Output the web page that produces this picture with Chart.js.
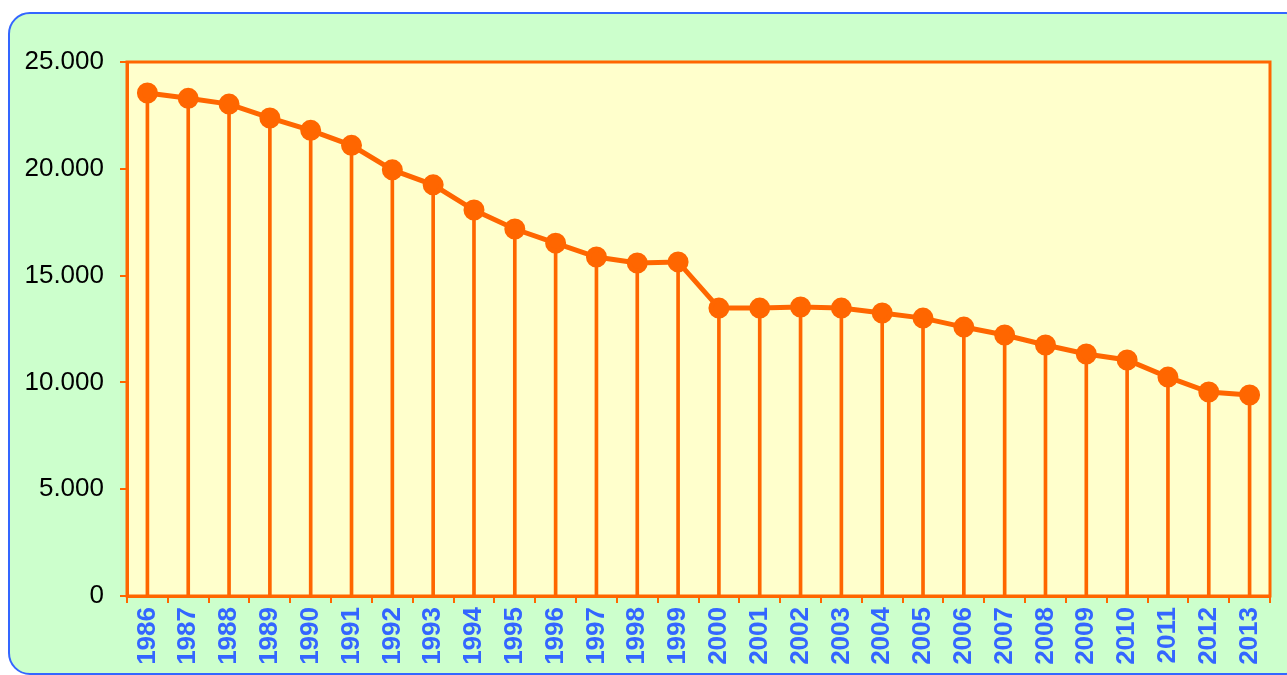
<!DOCTYPE html>
<html>
<head>
<meta charset="utf-8">
<script src="https://cdn.jsdelivr.net/npm/chart.js@4/dist/chart.umd.min.js"></script>
<style>
    html, body { margin: 0; padding: 0; background: #ffffff; width: 1287px; height: 675px; overflow: hidden; }
    .panel {
        position: absolute; left: 8px; top: 12px; width: 1300px; height: 663px;
        background: #CCFFCC; border: 2px solid #3366FF; border-radius: 22px; box-sizing: border-box;
    }
    #chart { position: absolute; left: 0; top: 0; }
</style>
</head>
<body>
<div class="panel"></div>
<canvas id="chart" width="1287" height="675"></canvas>
<script>
// Zeitreihe 1986-2013

const years = ['1986', '1987', '1988', '1989', '1990', '1991', '1992', '1993', '1994', '1995',
    '1996', '1997', '1998', '1999', '2000', '2001', '2002', '2003', '2004', '2005',
    '2006', '2007', '2008', '2009', '2010', '2011', '2012', '2013'];

const values = [23550, 23300, 23030, 22380, 21800, 21100, 19950, 19250, 18070, 17180,
    16520, 15870, 15590, 15640, 13480, 13480, 13530, 13480, 13250, 13010,
    12590, 12220, 11750, 11330, 11050, 10250, 9550, 9410];

const yTicks = [0, 5000, 10000, 15000, 20000, 25000];

const orange = '#FF6600';

const plotArea = {
    id: 'plotArea',
    beforeDraw(chart) {
        const { ctx, chartArea: a } = chart;
        ctx.save();
        ctx.fillStyle = '#FFFFCC';
        ctx.fillRect(a.left, a.top, a.right - a.left, a.bottom - a.top);
        ctx.restore();
    },
    afterDraw(chart) {
        const { ctx, chartArea: a } = chart;
        ctx.save();
        ctx.strokeStyle = orange;
        ctx.lineWidth = 3;
        ctx.strokeRect(a.left, a.top, a.right - a.left, a.bottom - a.top);
        ctx.restore();
    }
};

new Chart(document.getElementById('chart'), {
    type: 'bar',
    data: {
        labels: years,
        datasets: [
            {
                type: 'line',
                data: values,
                borderColor: orange,
                borderWidth: 5,
                backgroundColor: orange,
                pointBackgroundColor: orange,
                pointBorderColor: orange,
                pointRadius: 8,
                tension: 0,
                fill: false,
                order: 0
            },
            {
                type: 'bar',
                data: values,
                backgroundColor: orange,
                barThickness: 3,
                order: 1
            }
        ]
    },
    options: {
        responsive: false,
        animation: false,
        layout: { padding: { top: 62, right: 17, left: 0, bottom: 0 } },
        plugins: {
            legend: { display: false },
            tooltip: { enabled: false }
        },
        scales: {
            x: {
                offset: true,
                afterFit: (s) => { s.height = 675 - 596; },
                border: { display: true, color: orange, width: 3 },
                grid: { drawOnChartArea: false, color: orange, lineWidth: 2, tickLength: 7, offset: true },
                ticks: {
                    minRotation: 90, maxRotation: 90, autoSkip: false, padding: 4,
                    color: '#3366FF',
                    font: { family: 'Liberation Sans, Arial, sans-serif', size: 26, weight: 'bold' }
                }
            },
            y: {
                min: 0,
                max: 25000,
                afterFit: (s) => { s.width = 127; },
                afterBuildTicks: (s) => { s.ticks = yTicks.map(v => ({ value: v })); },
                border: { display: true, color: orange, width: 3 },
                grid: { drawOnChartArea: false, color: orange, lineWidth: 2, tickLength: 7 },
                ticks: {
                    padding: 16,
                    color: '#000000',
                    font: { family: 'Liberation Sans, Arial, sans-serif', size: 26 },
                    callback: (v) => v === 0 ? '0' : v.toLocaleString('de-DE')
                }
            }
        }
    },
    plugins: [plotArea]
});
</script>
</body>
</html>
